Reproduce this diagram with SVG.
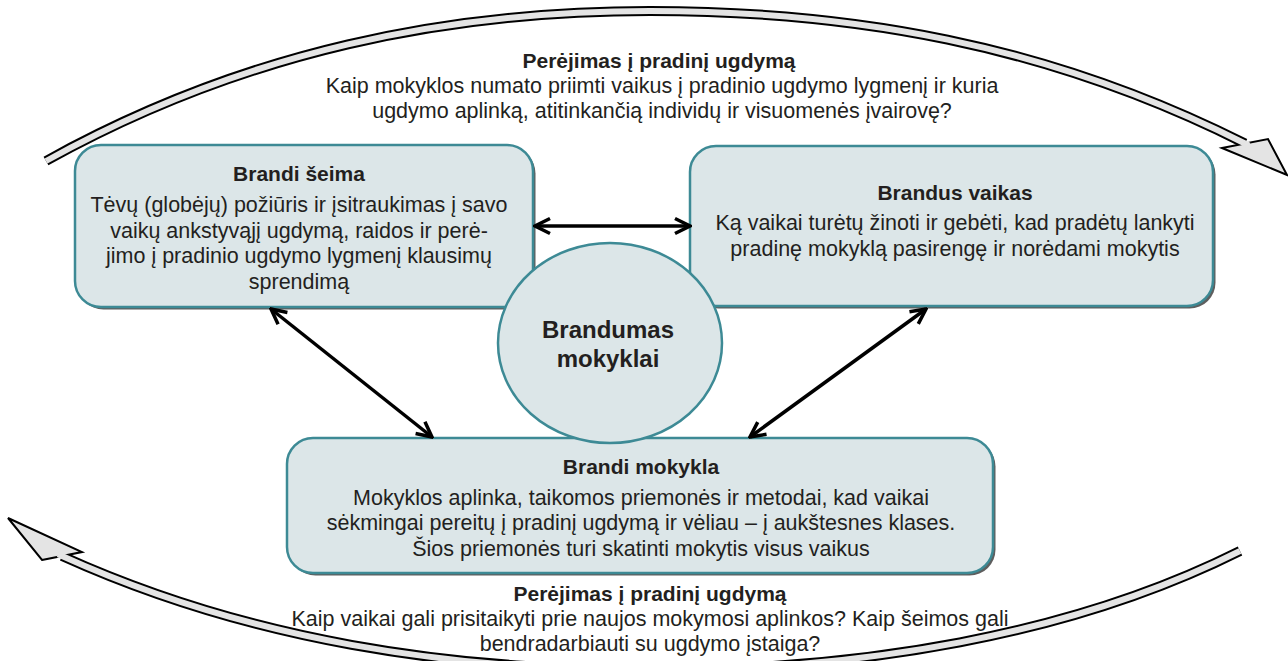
<svg xmlns="http://www.w3.org/2000/svg" width="1288" height="661" viewBox="0 0 1288 661">
<style>
text{font-family:"Liberation Sans",Arial,sans-serif;fill:#231f20;text-anchor:middle}
.t{font-size:21.5px}
.b{font-size:21px;font-weight:bold}
.c{font-size:24px;font-weight:bold}
.box{fill:#dce6e8;stroke:#3d8a95;stroke-width:2.5}
.shadow{fill:#5e5e5e}
.bandO{fill:none;stroke:#000;stroke-width:10}
.bandI{fill:none;stroke:#e4e4e4;stroke-width:6}
.head{fill:#e4e4e4;stroke:#000;stroke-width:2;stroke-linejoin:miter}
.conn{fill:none;stroke:#000;stroke-width:3.5}
</style>
<defs>
<marker id="ah" viewBox="-18 -10 20 20" markerWidth="20" markerHeight="20" refX="0" refY="0" orient="auto-start-reverse" markerUnits="userSpaceOnUse">
<path d="M-15,-7.5 L0,0 L-15,7.5" fill="none" stroke="#000" stroke-width="3.5" stroke-linejoin="miter"/>
</marker>
</defs>

<g id="top-arc">
<path class="bandO" d="M46,161 C246,50 450,11 650,11 C850,11 1045,43 1245,143.5"/>
<polygon class="head" points="1222,148 1268,139 1287,175"/>
<path class="bandI" d="M46,161 C246,50 450,11 650,11 C850,11 1045,43 1245,143.5 L1249,145.5"/>
</g>
<g id="bottom-arc">
<path class="bandO" d="M62,556 C250,641 450,670 650,670 C860,670 1070,636 1240,551"/>
<polygon class="head" points="42,560 82,552 8,518"/>
<path class="bandI" d="M58,554.2 L62,556 C250,641 450,670 650,670 C860,670 1070,636 1240,551"/>
</g>

<g id="top-label">
<text class="b" x="659" y="68">Perėjimas į pradinį ugdymą</text>
<text class="t" x="662" y="93">Kaip mokyklos numato priimti vaikus į pradinio ugdymo lygmenį ir kuria</text>
<text class="t" x="662" y="117.5">ugdymo aplinką, atitinkančią individų ir visuomenės įvairovę?</text>
</g>
<g id="bottom-label">
<text class="b" x="650" y="601">Perėjimas į pradinį ugdymą</text>
<text class="t" x="650" y="626">Kaip vaikai gali prisitaikyti prie naujos mokymosi aplinkos? Kaip šeimos gali</text>
<text class="t" x="650" y="650.5">bendradarbiauti su ugdymo įstaiga?</text>
</g>

<g id="brandi-seima">
<rect class="shadow" x="77.5" y="147.5" width="458" height="162" rx="26"/>
<rect class="box" x="75" y="145" width="458" height="162" rx="26"/>
<text class="b" x="299" y="181">Brandi šeima</text>
<text class="t" x="299" y="212">Tėvų (globėjų) požiūris ir įsitraukimas į savo</text>
<text class="t" x="299" y="237.5">vaikų ankstyvąjį ugdymą, raidos ir perė-</text>
<text class="t" x="299" y="263">jimo į pradinio ugdymo lygmenį klausimų</text>
<text class="t" x="299" y="288.5">sprendimą</text>
</g>

<g id="brandus-vaikas">
<rect class="shadow" x="692.5" y="148.5" width="523" height="160" rx="26"/>
<rect class="box" x="690" y="146" width="523" height="160" rx="26"/>
<text class="b" x="955" y="199.5">Brandus vaikas</text>
<text class="t" x="955" y="230">Ką vaikai turėtų žinoti ir gebėti, kad pradėtų lankyti</text>
<text class="t" x="955" y="255.5">pradinę mokyklą pasirengę ir norėdami mokytis</text>
</g>

<g id="brandi-mokykla">
<rect class="shadow" x="289.5" y="440.5" width="706" height="135" rx="26"/>
<rect class="box" x="287" y="438" width="706" height="135" rx="26"/>
<text class="b" x="641" y="473.5">Brandi mokykla</text>
<text class="t" x="641" y="504.5">Mokyklos aplinka, taikomos priemonės ir metodai, kad vaikai</text>
<text class="t" x="641" y="530">sėkmingai pereitų į pradinį ugdymą ir vėliau – į aukštesnes klases.</text>
<text class="t" x="641" y="555.5">Šios priemonės turi skatinti mokytis visus vaikus</text>
</g>

<g id="brandumas-mokyklai">
<ellipse class="box" cx="610" cy="343" rx="112" ry="100"/>
<text class="c" x="608" y="338">Brandumas</text>
<text class="c" x="608" y="367">mokyklai</text>
</g>

<g id="connectors">
<line class="conn" x1="535" y1="226" x2="690" y2="226" marker-start="url(#ah)" marker-end="url(#ah)"/>
<line class="conn" x1="271" y1="309" x2="432" y2="437" marker-start="url(#ah)" marker-end="url(#ah)"/>
<line class="conn" x1="926" y1="309" x2="750" y2="437" marker-start="url(#ah)" marker-end="url(#ah)"/>
</g>
</svg>
